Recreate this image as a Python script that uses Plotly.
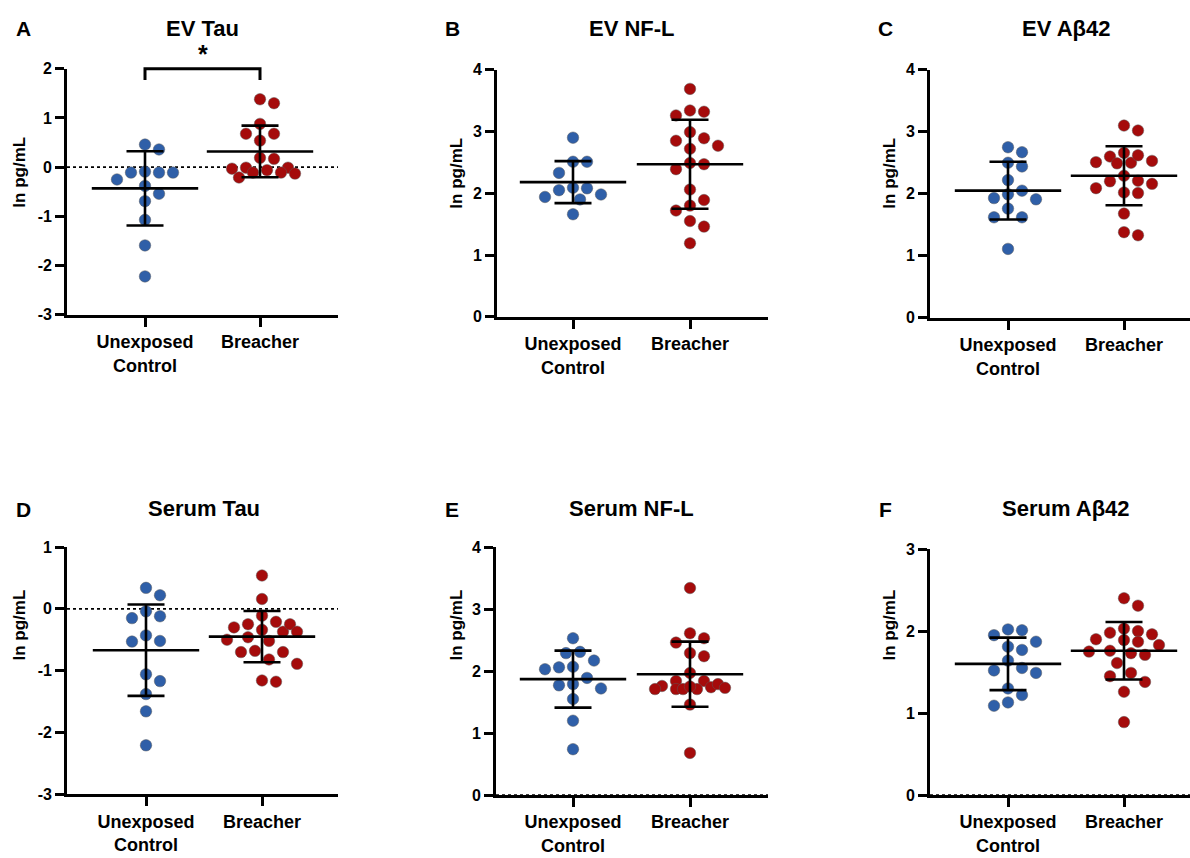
import numpy as np
import plotly.graph_objects as go

W, H = 1190, 858
FONT = "Liberation Sans, Arial, sans-serif"

categories = ["Unexposed<br>Control", "Breacher"]
titles = ["EV Tau", "EV NF-L", "EV Aβ42", "Serum Tau", "Serum NF-L", "Serum Aβ42"]
letters = ["A", "B", "C", "D", "E", "F"]
y_title = "ln pg/mL"

# ---- data (ln pg/mL) ----
ev_tau_control = [0.46, 0.36, -0.09, -0.11, -0.11, -0.11, -0.25, -0.38, -0.54, -0.69, -1.07, -1.59, -2.22]
ev_tau_breacher = [1.30, 1.38, 0.88, 0.68, 0.68, 0.54, 0.17, 0.19, -0.01, -0.06, -0.01, -0.03,
                   -0.13, -0.11, -0.11, -0.21]
ev_nfl_control = [2.90, 2.51, 2.51, 2.33, 2.05, 2.09, 2.08, 1.98, 1.90, 1.94, 1.66]
ev_nfl_breacher = [3.69, 3.34, 3.26, 3.32, 2.99, 2.85, 2.89, 2.72, 2.77, 2.39, 2.47, 2.49, 2.06,
                   1.89, 1.80, 1.72, 1.55, 1.46, 1.19]
ev_ab42_control = [2.67, 2.75, 2.44, 2.50, 2.22, 1.93, 1.91, 1.99, 2.05, 1.76, 1.62, 1.62, 1.11]
ev_ab42_breacher = [3.02, 3.10, 2.66, 2.50, 2.51, 2.53, 2.60, 2.62, 2.49, 2.29, 2.16, 2.20, 2.21,
                    2.09, 2.01, 2.02, 1.68, 1.33, 1.38]
serum_tau_control = [0.34, 0.22, -0.12, -0.04, -0.15, -0.43, -0.53, -0.52, -1.06, -1.17, -1.38,
                     -1.66, -2.21]
serum_tau_breacher = [0.54, 0.16, -0.11, -0.25, -0.37, -0.34, -0.30, -0.25, -0.21, -0.37, -0.46,
                      -0.52, -0.50, -0.70, -0.70, -0.68, -0.82, -0.89, -1.18, -1.16]
serum_nfl_control = [2.53, 2.29, 2.31, 2.17, 2.03, 2.06, 2.07, 1.89, 1.79, 1.77, 1.72, 1.55, 1.20, 0.74]
serum_nfl_breacher = [3.34, 2.61, 2.53, 2.46, 2.29, 2.24, 1.97, 1.84, 1.84, 1.74, 1.79, 1.71, 1.76,
                      1.71, 1.71, 1.71, 1.73, 1.75, 1.46, 0.68]
serum_ab42_control = [2.02, 2.01, 1.95, 1.87, 1.81, 1.77, 1.64, 1.55, 1.52, 1.49, 1.30, 1.22, 1.09, 1.13]
serum_ab42_breacher = [2.40, 2.31, 1.89, 2.00, 2.03, 1.96, 1.98, 1.87, 1.90, 1.83, 1.76, 1.73, 1.75,
                       1.71, 1.61, 1.45, 1.49, 1.38, 1.26, 0.89]

# mean and SD per group [control, breacher]
ev_tau_mean, ev_tau_sd = [-0.43, 0.32], [0.755, 0.525]
ev_nfl_mean, ev_nfl_sd = [2.18, 2.47], [0.34, 0.72]
ev_ab42_mean, ev_ab42_sd = [2.05, 2.29], [0.465, 0.475]
serum_tau_mean, serum_tau_sd = [-0.67, -0.45], [0.74, 0.415]
serum_nfl_mean, serum_nfl_sd = [1.87, 1.95], [0.46, 0.525]
serum_ab42_mean, serum_ab42_sd = [1.60, 1.76], [0.32, 0.35]

# y axis ranges (ticks every 1)
y_ranges = [(-3, 2), (0, 4), (0, 4), (-3, 1), (0, 4), (0, 3)]

panels_data = [
    (ev_tau_control, ev_tau_breacher, ev_tau_mean, ev_tau_sd),
    (ev_nfl_control, ev_nfl_breacher, ev_nfl_mean, ev_nfl_sd),
    (ev_ab42_control, ev_ab42_breacher, ev_ab42_mean, ev_ab42_sd),
    (serum_tau_control, serum_tau_breacher, serum_tau_mean, serum_tau_sd),
    (serum_nfl_control, serum_nfl_breacher, serum_nfl_mean, serum_nfl_sd),
    (serum_ab42_control, serum_ab42_breacher, serum_ab42_mean, serum_ab42_sd),
]

# ---- layout geometry (pixels): left, cat0, cat1, right, top, bottom ----
geom = [
    (67, 145, 260, 338, 62, 313),
    (497, 573, 690, 768, 63, 315),
    (930, 1008, 1124, 1190, 63, 316),
    (67, 146, 262, 338, 550, 802),
    (496, 573, 690, 768, 550, 803),
    (930, 1008, 1124, 1190, 552, 803),
]
letter_pos = [(23, 21), (452, 21), (885, 21), (23, 512), (452, 512), (885, 512)]
ytitle_pos = [(20, 168), (457, 169), (890, 169), (20, 630), (457, 630), (890, 630)]
title_y = [21, 21, 21, 511, 511, 511]
zero_dotted = [True, False, False, True, True, True]

BLUE = "#2F5FA8"
RED = "#A50B0B"
DOT = 11.5
LW = 2.6


def swarm(vals, ppu_y, ppu_x, diam=14.0, step=7.0, maxoff=36.0):
    vals = np.asarray(vals, dtype=float)
    order = np.argsort(-vals, kind="stable")
    placed = []
    offs = np.zeros(len(vals))
    kmax = int(maxoff // step)
    cands = [0.0]
    for k in range(1, kmax + 1):
        cands += [k * step, -k * step]
    for i in order:
        yp = vals[i] * ppu_y
        chosen, best, best_d = None, 0.0, -1.0
        for xo in cands:
            dmin = min([np.hypot(xo - px, yp - py) for px, py in placed] or [1e9])
            if dmin >= diam:
                chosen = xo
                break
            if dmin > best_d:
                best_d, best = dmin, xo
        if chosen is None:
            chosen = best
        placed.append((chosen, yp))
        offs[i] = chosen / ppu_x
    return offs


fig = go.Figure()
layout = dict(
    width=W, height=H, margin=dict(l=0, r=0, t=0, b=0),
    paper_bgcolor="white", plot_bgcolor="white", showlegend=False,
    font=dict(family=FONT, color="black"),
)
shapes, annotations = [], []


def axid(letter, n):
    return letter if n == 1 else f"{letter}{n}"


for p in range(6):
    ctrl, brch, mean, sd = panels_data[p]
    left, c0, c1, right, top, bottom = geom[p]
    ymin, ymax = y_ranges[p]
    ppu_x = c1 - c0
    ppu_y = (bottom - top) / (ymax - ymin)
    xr = [(left - c0) / ppu_x, (right - c0) / ppu_x]
    xd = [left / W, right / W]
    yd = [1 - bottom / H, 1 - top / H]
    n = p + 1
    xa, ya = axid("x", n), axid("y", n)
    xkey, ykey = ("xaxis", "yaxis") if n == 1 else (f"xaxis{n}", f"yaxis{n}")

    for gi, (vals, col) in enumerate([(ctrl, BLUE), (brch, RED)]):
        offs = swarm(vals, ppu_y, ppu_x)
        fig.add_trace(go.Scatter(
            x=gi + offs, y=vals, mode="markers", xaxis=xa, yaxis=ya,
            marker=dict(size=DOT, color=col, line=dict(width=0.6, color="rgba(90,90,90,0.8)")),
            cliponaxis=False, hoverinfo="y",
        ))
    fig.add_trace(go.Scatter(
        x=[0, 1], y=mean, mode="markers", xaxis=xa, yaxis=ya,
        marker=dict(symbol="line-ew", size=76, color="black", line=dict(width=LW, color="black")),
        error_y=dict(type="data", array=sd, visible=True, width=18.5, thickness=LW, color="black"),
        cliponaxis=False, hoverinfo="y",
    ))

    ytv = list(range(ymin, ymax + 1))
    layout[xkey] = dict(
        domain=xd, range=xr, anchor=ya, tickmode="array", tickvals=[0, 1], ticktext=categories,
        ticks="outside", ticklen=9, tickwidth=LW, tickcolor="black",
        showline=True, linewidth=LW, linecolor="black", showgrid=False, zeroline=False,
        tickfont=dict(family=FONT, size=18, color="black", weight="bold"), fixedrange=True,
    )
    layout[ykey] = dict(
        domain=yd, range=[ymin, ymax], anchor=xa, tickmode="array",
        tickvals=ytv, ticktext=[str(v) for v in ytv],
        ticks="outside", ticklen=9, tickwidth=LW, tickcolor="black",
        showline=True, linewidth=LW, linecolor="black", showgrid=False, zeroline=False,
        tickfont=dict(family=FONT, size=16, color="black", weight="bold"), fixedrange=True,
    )

    if zero_dotted[p]:
        shapes.append(dict(type="line", xref=f"{xa} domain", yref=ya, x0=0, x1=1, y0=0, y1=0,
                           line=dict(color="black", width=1.8, dash="dot"), layer="below"))

    annotations.append(dict(text=f"<b>{titles[p]}</b>", xref=xa, yref="paper", x=0.5,
                            y=1 - title_y[p] / H, showarrow=False, xanchor="center", yanchor="middle",
                            font=dict(family=FONT, size=22, color="black")))
    lx, ly = letter_pos[p]
    annotations.append(dict(text=f"<b>{letters[p]}</b>", xref="paper", yref="paper", x=lx / W,
                            y=1 - ly / H, showarrow=False, xanchor="center", yanchor="middle",
                            font=dict(family=FONT, size=21, color="black")))
    tx, ty = ytitle_pos[p]
    annotations.append(dict(text=f"<b>{y_title}</b>", xref="paper", yref="paper", x=tx / W,
                            y=1 - ty / H, showarrow=False, xanchor="center", yanchor="middle",
                            textangle=-90, font=dict(family=FONT, size=17, color="black")))

# significance bracket on panel A (between the two groups)
left, c0, c1, right, top, bottom = geom[0]
ymin, ymax = y_ranges[0]
yd0, yd1 = 1 - bottom / H, 1 - top / H


def to_paper(v):
    return yd0 + (v - ymin) / (ymax - ymin) * (yd1 - yd0)


br_top, br_leg = 2.0, 1.77
shapes.append(dict(type="path", xref="x", yref="paper",
                   path=f"M 0,{to_paper(br_leg)} L 0,{to_paper(br_top)} L 1,{to_paper(br_top)} L 1,{to_paper(br_leg)}",
                   line=dict(color="black", width=3)))
annotations.append(dict(text="<b>*</b>", xref="x", yref="paper", x=0.5, y=to_paper(2.3),
                        showarrow=False, xanchor="center", yanchor="middle",
                        font=dict(family=FONT, size=25, color="black")))

layout["shapes"] = shapes
layout["annotations"] = annotations
fig.update_layout(**layout)
fig.write_html("out.html")
